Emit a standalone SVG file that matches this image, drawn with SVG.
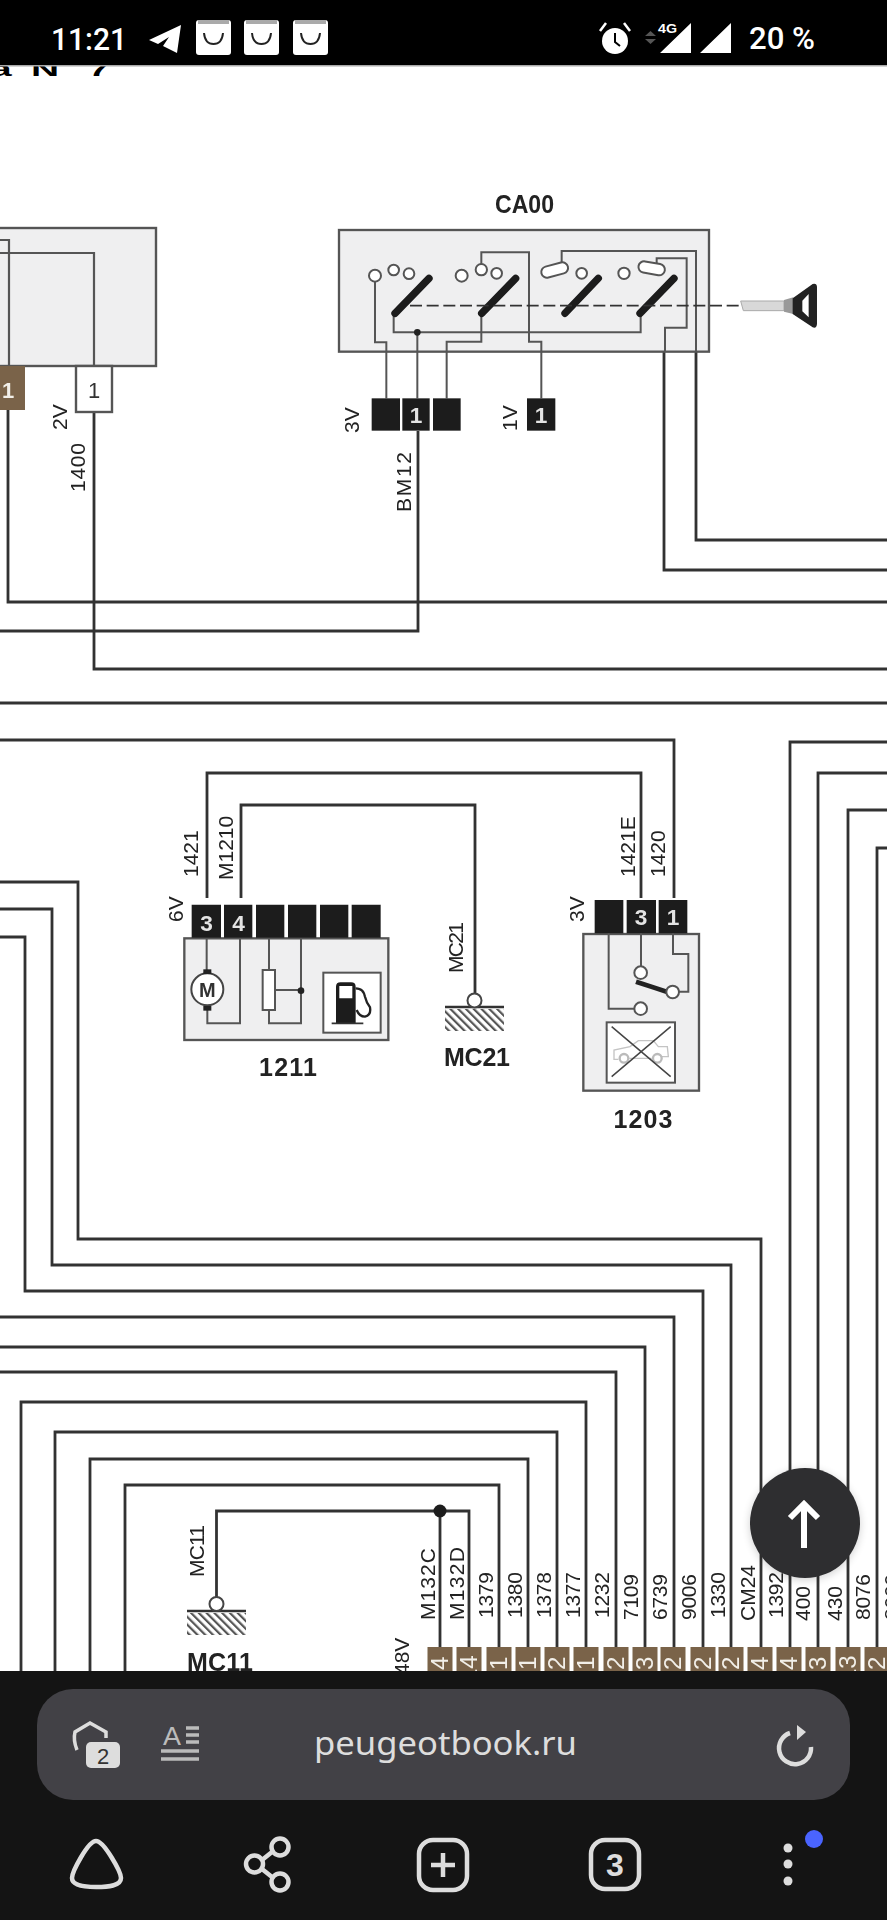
<svg xmlns="http://www.w3.org/2000/svg" width="887" height="1920" viewBox="0 0 887 1920">
<style>
text{font-family:"Liberation Sans",Arial,sans-serif}
.w{fill:none;stroke:#333;stroke-width:2.8}
.z{fill:none;stroke:#555;stroke-width:6}
.thin{fill:none;stroke:#555;stroke-width:2.2}
.box{fill:#efeff0;stroke:#555;stroke-width:7}
.blk{fill:#1c1c1c}
.dg{fill:#e4e4e4;font-size:68px;text-anchor:middle;font-weight:bold}
.lb{fill:#222;font-size:21px}
.nm{fill:#222;font-size:25px;font-weight:bold;text-anchor:middle}
.br{fill:#7a6448}
.bd{fill:#f2efe9;font-size:24px}
.ic{fill:none;stroke:#ddd;stroke-width:4.5}
.bl{fill:#000}
.wh{fill:#fff}
.st{fill:#fff;font-family:Roboto,"Liberation Sans",sans-serif;font-weight:500}
.tile{fill:#fff}
.sm{fill:none;stroke:#222;stroke-width:2}
.gnd{fill:url(#hatch)}
.c{fill:#fff;stroke:#555;stroke-width:6}
</style>
<defs>
<pattern id="hatch" patternUnits="userSpaceOnUse" width="5.5" height="5.5" patternTransform="rotate(-45)"><rect width="2.2" height="5.5" fill="#555"/></pattern>
<filter id="sh" x="-30%" y="-30%" width="160%" height="160%"><feGaussianBlur stdDeviation="4"/></filter>
<filter id="soft" filterUnits="userSpaceOnUse" x="0" y="0" width="887" height="1920"><feGaussianBlur stdDeviation="0.4"/></filter>
</defs>
<rect width="887" height="1920" fill="#fff"/>

<g id="page-title" style="font-weight:bold" font-size="39">
<text transform="translate(-10 75.500) scale(1 .5)">a</text>
<text transform="translate(31 75.500) scale(1 .5)">N</text>
<text transform="translate(88 75.500) scale(1 .5)">7</text>
</g>

<g id="drawing" filter="url(#soft)">
<g id="connectors">
<path class="w" d="M8 410V602H887"/>
<path class="w" d="M0 631H418V431"/>
<path class="w" d="M94 412V669H887"/>
<path class="w" d="M0 703H887"/>
<path class="w" d="M0 740H674V898"/>
<path class="w" d="M207 898V773H641V898"/>
<path class="w" d="M241 898V805H475V994"/>
<path class="w" d="M664 352V570H887"/>
<path class="w" d="M696 352V540H887"/>
<path class="w" d="M0 882H78V1239H761V1647"/>
<path class="w" d="M0 909H52V1265H731V1647"/>
<path class="w" d="M0 937H25V1291H703V1647"/>
<path class="w" d="M0 1317H674V1647"/>
<path class="w" d="M0 1347H645V1647"/>
<path class="w" d="M0 1372H616V1647"/>
<path class="w" d="M21 1671V1402H586V1647"/>
<path class="w" d="M55 1671V1432H557V1647"/>
<path class="w" d="M90 1671V1459H528V1647"/>
<path class="w" d="M125 1671V1485H499V1647"/>
<path class="w" d="M216.500 1597V1511H469V1647"/>
<path class="w" d="M440 1511V1647"/>
<circle cx="440" cy="1511" r="6.500" fill="#1c1c1c"/>
<path class="w" d="M790 1647V742H887"/>
<path class="w" d="M818 1647V773H887"/>
<path class="w" d="M848 1647V810H887"/>
<path class="w" d="M877 1647V848H887"/>
</g>

<g id="node-left-module">
<rect x="-5" y="228" width="161" height="138" fill="#efeff0" stroke="#555" stroke-width="2.400"/>
<path class="thin" d="M0 240H9V366M0 253H94V366"/>
<rect class="br" x="0" y="366" width="25" height="44"/>
<text class="bd" x="8" y="398" text-anchor="middle" style="font-size:22px;font-weight:bold">1</text>
<rect x="76" y="366" width="36" height="46" fill="#fff" stroke="#555" stroke-width="2.400"/>
<text x="94" y="398" text-anchor="middle" font-size="22" fill="#333">1</text>
<text class="lb" transform="translate(66.500 430) rotate(-90)">2V</text>
<text class="lb" transform="translate(85 492) rotate(-90)" textLength="49">1400</text>
</g>

<g id="node-CA00">
<text class="nm" x="524.500" y="212.500" textLength="59" lengthAdjust="spacingAndGlyphs">CA00</text>
<g transform="translate(320 170) scale(.33333)">
<rect class="box" x="57" y="180" width="1110" height="365"/>
<path class="z" d="M165 335V517H199V685M221 435V487H962V435M292 487V685M484 435V515H380V685M484 282V247H627V515H664V685M725 285V243H1128V545M1010 285V265H1100V473H1035V545"/>
<circle cx="292" cy="487" r="10" fill="#222"/>
<g class="c">
<circle cx="165" cy="317" r="18"/><circle cx="221" cy="300" r="16"/><circle cx="267" cy="311" r="16"/>
<circle cx="425" cy="317" r="18"/><circle cx="484" cy="299" r="17"/><circle cx="530" cy="310" r="16"/>
<circle cx="785" cy="310" r="16"/><circle cx="912" cy="310" r="17"/>
<rect x="663" y="283" width="82" height="34" rx="17" transform="rotate(-15 704 300)"/>
<rect x="955" y="278" width="80" height="34" rx="17" transform="rotate(10 995 295)"/>
</g>
<path d="M225 430L327 325M485 430L587 325M735 430L835 325M960 430L1062 325" fill="none" stroke="#1c1c1c" stroke-width="22" stroke-linecap="round"/>
<path d="M270 407H1265" fill="none" stroke="#333" stroke-width="5" stroke-dasharray="36 14"/>
<path d="M1262 393H1392V422H1270Z" fill="#d8d8d8" stroke="#aaa" stroke-width="3"/>
<path d="M1392 390L1420 382V432L1392 425Z" fill="#999"/>
<path fill-rule="evenodd" d="M1418 385L1478 342Q1490 338 1491 350V462Q1490 476 1478 472L1418 432ZM1447 392V424L1466 442V372Z" fill="#222"/>
<rect class="blk" x="155" y="685" width="85" height="97"/>
<rect class="blk" x="247" y="685" width="82" height="97"/>
<rect class="blk" x="339" y="685" width="83" height="97"/>
<rect class="blk" x="621" y="685" width="85" height="97"/>
<text class="dg" x="288" y="760">1</text>
<text class="dg" x="663" y="760">1</text>
</g>
<text class="lb" transform="translate(359 433) rotate(-90)">3V</text>
<text class="lb" transform="translate(517 431) rotate(-90)">1V</text>
<text class="lb" transform="translate(410.500 512) rotate(-90)" textLength="60">BM12</text>
</g>

<g id="node-1211">
<g transform="translate(150 830) scale(.33333)">
<rect class="box" x="103" y="325" width="612" height="305"/>
<path class="blk" d="M125 224h88v99h-88zM222 224h85v99h-85zM318 224h85v99h-85zM414 224h85v99h-85zM510 224h85v99h-85zM605 224h87v99h-87z"/>
<text class="dg" x="170" y="303">3</text>
<text class="dg" x="266" y="303">4</text>
<path class="z" d="M170 325V425M172 535V580H270V325M357 325V420M357 540V580H453V325M375 480H453"/>
<circle cx="453" cy="482" r="10" fill="#222"/>
<rect x="338" y="420" width="37" height="120" fill="#fff" stroke="#555" stroke-width="6"/>
<circle cx="172" cy="478" r="48" fill="#fff" stroke="#444" stroke-width="6"/>
<rect x="160" y="418" width="24" height="14" fill="#222"/><rect x="160" y="528" width="24" height="14" fill="#222"/>
<text x="172" y="500" font-size="60" font-weight="bold" text-anchor="middle" fill="#333">M</text>
<rect x="520" y="428" width="172" height="180" fill="#fff" stroke="#555" stroke-width="6"/>
<path d="M558 580V470Q558 457 572 457H603Q617 457 617 470V580ZM568 468V505H607V468Z" fill="#1c1c1c" fill-rule="evenodd"/>
<path d="M545 580H640" stroke="#333" stroke-width="5"/>
<path d="M617 475Q640 475 645 500Q650 520 660 532Q664 556 645 560Q628 560 620 540" fill="none" stroke="#222" stroke-width="7"/>
</g>
<text class="lb" transform="translate(183 922) rotate(-90)">6V</text>
<text class="lb" transform="translate(198 877) rotate(-90)">1421</text>
<text class="lb" transform="translate(233 880) rotate(-90)">M1210</text>
<text class="nm" x="288" y="1076" textLength="58">1211</text>
</g>

<g id="node-MC21">
<text class="lb" transform="translate(462.500 973) rotate(-90)" textLength="51">MC21</text>
<rect class="gnd" x="445" y="1009" width="59" height="22"/>
<path d="M445 1007H504" stroke="#333" stroke-width="2.500"/>
<circle cx="474.500" cy="1000.500" r="7" fill="#fff" stroke="#444" stroke-width="2"/>
<text class="nm" x="477" y="1066" textLength="66">MC21</text>
</g>

<g id="node-1203">
<g transform="translate(550 830) scale(.33333)">
<rect class="box" x="100" y="312" width="347" height="470"/>
<path class="blk" d="M134 210h86v100h-86zM230 210h88v100h-88zM326 210h86v100h-86z"/>
<text class="dg" x="273" y="285">3</text>
<text class="dg" x="369" y="285">1</text>
<path class="z" d="M176 310V536H255M273 310V410M369 310V372H415V485H385"/>
<path d="M258 455L350 485" stroke="#222" stroke-width="14" fill="none"/>
<g class="c">
<circle cx="272" cy="536" r="19"/><circle cx="272" cy="428" r="19"/><circle cx="368" cy="486" r="19"/>
</g>
<rect x="170" y="577" width="205" height="181" fill="#fff" stroke="#555" stroke-width="6"/>
<path d="M192 690V660L240 650L265 632H310L325 650H352L355 680H335M305 685H238M205 688H192" fill="none" stroke="#c4c4c4" stroke-width="4"/>
<circle cx="222" cy="685" r="13" fill="none" stroke="#bbb" stroke-width="7"/>
<circle cx="322" cy="685" r="13" fill="none" stroke="#bbb" stroke-width="7"/>
<path d="M185 590L362 740M362 590L185 740" stroke="#444" stroke-width="4.500"/>
</g>
<text class="lb" transform="translate(584 922) rotate(-90)">3V</text>
<text class="lb" transform="translate(635 877) rotate(-90)">1421E</text>
<text class="lb" transform="translate(665 877) rotate(-90)">1420</text>
<text class="nm" x="643" y="1128" textLength="59">1203</text>
</g>

<g id="node-MC11">
<text class="lb" transform="translate(204 1577) rotate(-90)" textLength="52">MC11</text>
<rect class="gnd" x="187" y="1613" width="59" height="22"/>
<path d="M187 1611H246" stroke="#333" stroke-width="2.500"/>
<circle cx="216.500" cy="1604" r="7" fill="#fff" stroke="#444" stroke-width="2"/>
<text class="nm" x="220" y="1671" textLength="66">MC11</text>
</g>

<g id="node-connector-row">
<g class="br">
<rect x="427.500" y="1647" width="25" height="30"/><rect x="456.500" y="1647" width="25" height="30"/><rect x="486.500" y="1647" width="25" height="30"/><rect x="515.500" y="1647" width="25" height="30"/><rect x="544.500" y="1647" width="25" height="30"/><rect x="573.500" y="1647" width="25" height="30"/><rect x="603.500" y="1647" width="25" height="30"/><rect x="632.500" y="1647" width="25" height="30"/><rect x="660.500" y="1647" width="25" height="30"/><rect x="690.500" y="1647" width="25" height="30"/><rect x="718.500" y="1647" width="25" height="30"/><rect x="747.500" y="1647" width="25" height="30"/><rect x="776.500" y="1647" width="25" height="30"/><rect x="805.500" y="1647" width="25" height="30"/><rect x="835.500" y="1647" width="25" height="30"/><rect x="864.500" y="1647" width="25" height="30"/>
</g>
<g class="bd">
<text transform="translate(448 1670) rotate(-90)">4</text>
<text transform="translate(477 1682) rotate(-90)">14</text>
<text transform="translate(507 1670) rotate(-90)">1</text>
<text transform="translate(536 1670) rotate(-90)">1</text>
<text transform="translate(565 1670) rotate(-90)">2</text>
<text transform="translate(594 1670) rotate(-90)">1</text>
<text transform="translate(624 1670) rotate(-90)">2</text>
<text transform="translate(653 1670) rotate(-90)">3</text>
<text transform="translate(681 1670) rotate(-90)">2</text>
<text transform="translate(711 1670) rotate(-90)">2</text>
<text transform="translate(739 1670) rotate(-90)">2</text>
<text transform="translate(768 1670) rotate(-90)">4</text>
<text transform="translate(797 1670) rotate(-90)">4</text>
<text transform="translate(826 1670) rotate(-90)">3</text>
<text transform="translate(856 1682) rotate(-90)">13</text>
<text transform="translate(885 1670) rotate(-90)">2</text>
</g>
<g class="lb">
<text transform="translate(409 1675) rotate(-90)">48V</text>
<text transform="translate(435 1620) rotate(-90)" textLength="72">M132C</text>
<text transform="translate(464 1620) rotate(-90)" textLength="73">M132D</text>
<text transform="translate(493 1618) rotate(-90)" textLength="46">1379</text>
<text transform="translate(522 1618) rotate(-90)" textLength="46">1380</text>
<text transform="translate(551 1618) rotate(-90)" textLength="46">1378</text>
<text transform="translate(580 1618) rotate(-90)" textLength="46">1377</text>
<text transform="translate(609 1618) rotate(-90)" textLength="46">1232</text>
<text transform="translate(638 1620) rotate(-90)" textLength="46">7109</text>
<text transform="translate(667 1620) rotate(-90)" textLength="46">6739</text>
<text transform="translate(696 1620) rotate(-90)" textLength="46">9006</text>
<text transform="translate(725 1618) rotate(-90)" textLength="46">1330</text>
<text transform="translate(755 1621) rotate(-90)">CM24</text>
<text transform="translate(783 1618) rotate(-90)" textLength="46">1392</text>
<text transform="translate(810 1621) rotate(-90)">400</text>
<text transform="translate(841.500 1621) rotate(-90)">430</text>
<text transform="translate(870 1620) rotate(-90)" textLength="46">8076</text>
<text transform="translate(899 1620) rotate(-90)" textLength="46">8000</text>
</g>
</g>
</g>

<g id="scroll-button">
<circle cx="805" cy="1525" r="55" fill="#000" opacity=".18" filter="url(#sh)"/>
<circle cx="805" cy="1523" r="55" fill="#2e2e30"/>
<path d="M804 1548V1505M790 1518L804 1504L818 1518" fill="none" stroke="#fff" stroke-width="6"/>
</g>

<g id="status-bar">
<rect class="bl" width="887" height="65"/>
<rect y="65" width="887" height="1.500" fill="#aaa"/>
<text class="st" x="51" y="50" font-size="32" textLength="76" lengthAdjust="spacingAndGlyphs">11:21</text>
<path class="wh" d="M181 25L149 40L158 44L169 37L163 46L177 53Z"/>
<g>
<rect class="tile" x="196" y="20" width="35" height="35" rx="3"/><rect x="198" y="20" width="31" height="4" fill="#aaa"/><path class="sm" d="M204 33Q205 44 213.500 44Q222 44 223 33"/>
<rect class="tile" x="244" y="20" width="35" height="35" rx="3"/><rect x="246" y="20" width="31" height="4" fill="#aaa"/><path class="sm" d="M252 33Q253 44 261.500 44Q270 44 271 33"/>
<rect class="tile" x="293" y="20" width="35" height="35" rx="3"/><rect x="295" y="20" width="31" height="4" fill="#aaa"/><path class="sm" d="M301 33Q302 44 310.500 44Q319 44 320 33"/>
</g>
<circle class="wh" cx="615" cy="41" r="13"/>
<path d="M615 33V42L620 46" fill="none" stroke="#000" stroke-width="2"/>
<path d="M600 31L606 23M630 31L624 23" stroke="#fff" stroke-width="2.500"/>
<path d="M645 36L650.500 31L656 36ZM645 39L650.500 44L656 39Z" fill="#555"/>
<text class="wh" x="658" y="33" font-size="12.500" font-weight="bold" textLength="19" lengthAdjust="spacingAndGlyphs">4G</text>
<path class="wh" d="M691 23V53H660ZM731 23V53H700Z"/>
<text class="st" x="749" y="49" font-size="32" textLength="66" lengthAdjust="spacingAndGlyphs">20 %</text>
</g>

<g id="browser-bar">
<rect y="1671" width="887" height="249" fill="#141414"/>
<rect x="37" y="1689" width="813" height="111" rx="36" fill="#424146"/>
<path class="ic" style="stroke-width:3.500" d="M77 1750Q73 1740 75 1732L90 1723L106 1732V1738"/>
<rect x="86" y="1742" width="34" height="26" rx="5" fill="#ddd"/>
<text x="103" y="1764" font-size="22" text-anchor="middle" fill="#333">2</text>
<text x="163" y="1745" font-size="25" fill="#bbb" textLength="18" lengthAdjust="spacingAndGlyphs">A</text>
<path d="M186 1728H199M186 1735H199M186 1742H199M161 1751H199M161 1759H199" stroke="#bbb" stroke-width="3.500"/>
<text x="314" y="1755" fill="#ddd" font-size="33" textLength="263" lengthAdjust="spacingAndGlyphs" style="font-family:'Noto Sans',sans-serif">peugeotbook.ru</text>
<path class="ic" d="M790 1733A16 16 0 1 0 811 1747"/>
<path d="M797 1725L806 1732L797 1740Z" fill="#ddd"/>
<path class="ic" d="M96 1841C88 1841 72 1872 72 1878C72 1886 85 1887 96 1887C108 1887 121 1886 121 1878C121 1872 104 1841 96 1841Z"/>
<g class="ic"><circle cx="280" cy="1847" r="8.500"/><circle cx="254.500" cy="1864" r="8.500"/><circle cx="280" cy="1882" r="8.500"/><path d="M272 1852L262 1860M262 1869L272 1877"/></g>
<rect class="ic" x="419" y="1840" width="48" height="50" rx="14"/>
<path class="ic" d="M431 1865H455M443 1853V1877"/>
<rect class="ic" x="591" y="1840" width="48" height="49" rx="14"/>
<text x="615" y="1876" font-size="32" text-anchor="middle" fill="#ddd" font-weight="bold">3</text>
<circle cx="788" cy="1848" r="4.500" fill="#ddd"/><circle cx="788" cy="1864" r="4.500" fill="#ddd"/><circle cx="788" cy="1881" r="4.500" fill="#ddd"/>
<circle cx="814" cy="1839" r="9" fill="#4a64ff"/>
</g>
</svg>
